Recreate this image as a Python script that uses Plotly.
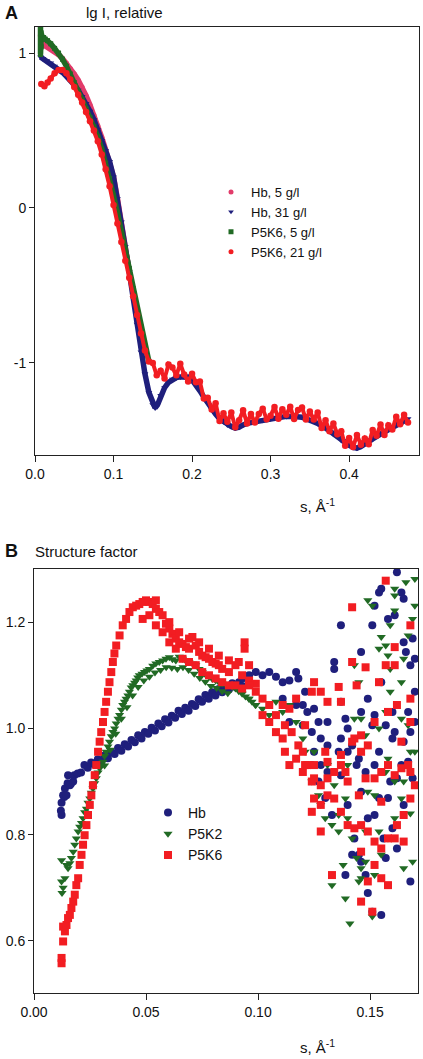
import plotly.graph_objects as go

# ---------------- Panel A : lg I, relative ----------------
A_hb5_s = [0.007, 0.008, 0.012, 0.015, 0.020, 0.025, 0.030, 0.035, 0.040, 0.045, 0.050, 0.055, 0.060,
           0.065, 0.070, 0.075, 0.080, 0.085, 0.090, 0.095, 0.100, 0.105, 0.110, 0.115, 0.120]
A_hb5_lgI = [1.12, 1.07, 1.05, 1.04, 1.03, 1.01, 0.99, 0.965, 0.935, 0.90, 0.865, 0.825, 0.78,
             0.725, 0.665, 0.60, 0.53, 0.455, 0.375, 0.30, 0.20, 0.06, -0.09, -0.25, -0.41]

A_hb31_s = [0.007, 0.010, 0.015, 0.020, 0.025, 0.030, 0.035, 0.040, 0.045, 0.050,
            0.055, 0.060, 0.065, 0.070, 0.075, 0.080, 0.085, 0.090, 0.095, 0.100,
            0.105, 0.110, 0.115, 0.120, 0.125, 0.130, 0.135, 0.140, 0.145, 0.150,
            0.153, 0.156, 0.160, 0.165, 0.170, 0.175, 0.180, 0.185, 0.190, 0.195, 0.200,
            0.205, 0.210, 0.215, 0.220, 0.225, 0.230, 0.235, 0.240, 0.245, 0.250, 0.255,
            0.260, 0.265, 0.270, 0.280, 0.290, 0.300, 0.310, 0.320, 0.330, 0.340, 0.350,
            0.360, 0.370, 0.380, 0.390, 0.400, 0.405, 0.410, 0.415, 0.420, 0.430, 0.440,
            0.450, 0.460, 0.470, 0.475]
A_hb31_lgI = [0.975, 0.965, 0.95, 0.935, 0.915, 0.895, 0.875, 0.85, 0.825, 0.795,
              0.76, 0.72, 0.675, 0.625, 0.57, 0.505, 0.435, 0.37, 0.30, 0.20,
              0.06, -0.09, -0.25, -0.41, -0.58, -0.75, -0.93, -1.07, -1.19, -1.27,
              -1.29, -1.27, -1.21, -1.16, -1.125, -1.105, -1.095, -1.09, -1.09, -1.09, -1.11,
              -1.14, -1.18, -1.22, -1.26, -1.30, -1.33, -1.36, -1.38, -1.40, -1.41, -1.42,
              -1.415, -1.40, -1.39, -1.38, -1.37, -1.36, -1.35, -1.345, -1.345, -1.35, -1.37,
              -1.39, -1.42, -1.46, -1.50, -1.53, -1.545, -1.55, -1.54, -1.52, -1.49, -1.46,
              -1.43, -1.40, -1.37, -1.36]

A_p5k6_5_s = [0.007, 0.007, 0.007, 0.008, 0.008, 0.009, 0.011, 0.013, 0.016, 0.020, 0.025,
              0.030, 0.035, 0.040, 0.045, 0.050, 0.055, 0.060, 0.065, 0.070, 0.075, 0.080,
              0.085, 0.090, 0.095, 0.100, 0.105, 0.110, 0.115, 0.120, 0.125, 0.130, 0.135,
              0.140, 0.145]
A_p5k6_5_lgI = [1.17, 1.12, 0.99, 1.04, 1.13, 1.09, 1.10, 1.09, 1.08, 1.06, 1.03,
                1.00, 0.96, 0.915, 0.865, 0.81, 0.75, 0.70, 0.64, 0.585, 0.525, 0.46,
                0.38, 0.29, 0.19, 0.08, -0.03, -0.15, -0.27, -0.39, -0.52, -0.66, -0.79,
                -0.91, -0.99]

A_p5k6_21_s = [0.008, 0.012, 0.016, 0.020, 0.025, 0.030, 0.035, 0.040, 0.045, 0.050,
               0.055, 0.060, 0.065, 0.070, 0.075, 0.080, 0.085, 0.090, 0.095, 0.100,
               0.105, 0.110, 0.115, 0.120, 0.125, 0.130, 0.135, 0.140, 0.145,
               0.150, 0.155, 0.160, 0.165, 0.170, 0.175, 0.180, 0.185, 0.190, 0.195,
               0.200, 0.205, 0.210, 0.215, 0.220, 0.225, 0.230, 0.235, 0.240, 0.245,
               0.250, 0.255, 0.260, 0.265, 0.270, 0.275, 0.280, 0.285, 0.290, 0.295,
               0.300, 0.305, 0.310, 0.315, 0.320, 0.325, 0.330, 0.335, 0.340, 0.345,
               0.350, 0.355, 0.360, 0.365, 0.370, 0.375, 0.380, 0.385, 0.390, 0.395,
               0.400, 0.405, 0.410, 0.415, 0.420, 0.425, 0.430, 0.435, 0.440, 0.445,
               0.450, 0.455, 0.460, 0.465, 0.470, 0.475]
A_p5k6_21_lgI = [0.80, 0.785, 0.81, 0.835, 0.87, 0.89, 0.89, 0.87, 0.83, 0.78,
                 0.73, 0.68, 0.62, 0.56, 0.50, 0.43, 0.345, 0.25, 0.14, 0.02,
                 -0.10, -0.22, -0.34, -0.45, -0.57, -0.69, -0.81, -0.92, -0.99,
                 -1.00, -1.08, -1.05, -1.10, -1.01, -1.03, -1.08, -1.005, -1.075, -1.12,
                 -1.07, -1.125, -1.12, -1.23, -1.225, -1.30, -1.26, -1.375, -1.325, -1.38,
                 -1.32, -1.415, -1.37, -1.305, -1.39, -1.33, -1.385, -1.33, -1.295, -1.363,
                 -1.34, -1.285, -1.36, -1.298, -1.335, -1.282, -1.362, -1.303, -1.287, -1.365,
                 -1.313, -1.365, -1.32, -1.42, -1.37, -1.44, -1.39, -1.46, -1.44, -1.535,
                 -1.485, -1.543, -1.465, -1.528, -1.487, -1.525, -1.432, -1.47, -1.397, -1.465,
                 -1.402, -1.43, -1.347, -1.395, -1.335, -1.385]

A_names = ["Hb, 5 g/l", "Hb, 31 g/l", "P5K6, 5 g/l", "P5K6, 21 g/l"]

# ---------------- Panel B : Structure factor ----------------
B_hb_s = [0.012, 0.0135, 0.015, 0.0165, 0.018, 0.0195, 0.021, 0.0225, 0.024, 0.0255, 0.027, 0.0285,
          0.030, 0.0315, 0.033, 0.0345, 0.036, 0.0375, 0.039, 0.0405, 0.042, 0.0435, 0.045, 0.0465,
          0.048, 0.0495, 0.051, 0.0525, 0.054, 0.0555, 0.057, 0.0585, 0.060, 0.0615, 0.063, 0.0645,
          0.066, 0.0675, 0.069, 0.0705, 0.072, 0.0735, 0.075, 0.0765, 0.078, 0.0795, 0.081, 0.0825,
          0.084, 0.0855, 0.087, 0.0885, 0.090, 0.0915, 0.093,
          0.0123, 0.0123, 0.013, 0.0138, 0.0152, 0.0145, 0.016, 0.0175,
          0.093, 0.096, 0.099, 0.102, 0.105, 0.108, 0.111, 0.114, 0.117, 0.118, 0.121, 0.120,
          0.122, 0.125, 0.127, 0.128, 0.131, 0.131, 0.134, 0.134, 0.137, 0.137, 0.139, 0.140,
          0.142, 0.144, 0.146, 0.146, 0.148, 0.149, 0.151, 0.151, 0.152, 0.152, 0.154, 0.155,
          0.155, 0.157, 0.158, 0.160, 0.161, 0.161, 0.162, 0.164, 0.165, 0.165, 0.166, 0.167,
          0.168, 0.169, 0.170, 0.169, 0.170, 0.168, 0.137, 0.140, 0.143, 0.145, 0.146, 0.148,
          0.149, 0.151, 0.155, 0.157, 0.160, 0.162, 0.164, 0.165, 0.159, 0.154, 0.152, 0.142,
          0.139, 0.146, 0.145, 0.128, 0.131, 0.136, 0.125, 0.124, 0.127, 0.130, 0.133, 0.149,
          0.156, 0.160, 0.167, 0.170, 0.111, 0.117, 0.114, 0.120, 0.124, 0.137, 0.140, 0.154,
          0.158, 0.162, 0.165, 0.168, 0.152]
B_hb_sf = [0.845, 0.871, 0.897, 0.896, 0.912, 0.915, 0.917, 0.931, 0.926, 0.936, 0.932, 0.942,
           0.938, 0.949, 0.944, 0.955, 0.952, 0.963, 0.958, 0.970, 0.966, 0.978, 0.974, 0.987,
           0.981, 0.993, 0.990, 1.001, 0.996, 1.009, 1.004, 1.017, 1.011, 1.024, 1.020, 1.033,
           1.027, 1.039, 1.033, 1.046, 1.042, 1.055, 1.050, 1.063, 1.056, 1.068, 1.062, 1.074,
           1.068, 1.079, 1.073, 1.085, 1.078, 1.087, 1.080,
           0.837, 0.860, 0.874, 0.887, 0.912, 0.874, 0.893, 0.900,
           1.094, 1.100, 1.106, 1.100, 1.106, 1.097, 1.087, 1.090, 1.106, 1.094, 1.069, 1.044,
           1.031, 1.037, 1.012, 0.981, 1.012, 0.968, 1.125, 1.112, 1.194, 1.050, 1.018, 1.000,
           0.968, 0.931, 1.144, 1.031, 0.918, 1.056, 1.194, 1.006, 1.231, 1.025, 1.256, 1.263,
           1.087, 1.006, 1.206, 1.031, 1.213, 0.993, 1.294, 1.256, 1.162, 1.244, 1.144, 1.031,
           1.119, 1.169, 1.131, 0.906, 1.012, 0.712, 0.912, 0.856, 0.793, 0.762, 0.749, 0.724,
           0.690, 0.655, 0.649, 0.756, 0.812, 0.774, 0.931, 0.856, 0.900, 0.869, 0.837, 0.762,
           0.724, 0.881, 0.943, 0.931, 0.918, 0.956, 0.956, 0.931, 0.900, 0.869, 0.837, 0.831,
           0.793, 0.981, 0.937, 1.069, 1.056, 1.044, 1.012, 1.006, 0.993, 0.981, 0.956, 0.956,
           0.869, 0.906, 0.975, 0.993, 0.931]

B_p5k2_s = [0.0123, 0.0123, 0.0125, 0.013, 0.0138, 0.0145, 0.0152, 0.016, 0.0167, 0.0175, 0.0182,
            0.0189, 0.0197, 0.0204, 0.0212, 0.0219, 0.0226, 0.0234, 0.0241, 0.0249, 0.0256, 0.0263,
            0.0271, 0.0278, 0.0286, 0.0293, 0.030, 0.0308, 0.0315, 0.0322, 0.033, 0.0337, 0.0345,
            0.0352, 0.036, 0.0367, 0.0375, 0.0382, 0.039, 0.0396, 0.0404, 0.0411, 0.0419, 0.0426,
            0.0434, 0.0441, 0.0449, 0.0456, 0.0463, 0.047, 0.0482, 0.0493, 0.0504, 0.0515, 0.053,
            0.0544, 0.0559, 0.0574, 0.0589, 0.0604, 0.0618, 0.0633, 0.0648, 0.0663, 0.0678, 0.0692,
            0.0707, 0.0722, 0.0737, 0.0751, 0.0766, 0.0781, 0.0796, 0.0811, 0.0825, 0.084, 0.0855,
            0.087, 0.0885, 0.0899, 0.0914, 0.0929, 0.0944, 0.0959, 0.0973, 0.0988,
            0.0315, 0.034, 0.0365, 0.039, 0.0415, 0.044, 0.0465, 0.049, 0.0515, 0.054, 0.0565,
            0.059, 0.0615, 0.064, 0.0665, 0.069, 0.0715, 0.074, 0.0765, 0.079, 0.0815, 0.084, 0.0865,
            0.102, 0.111, 0.117, 0.120, 0.121, 0.124, 0.127, 0.128, 0.130, 0.133, 0.136, 0.138,
            0.133, 0.139, 0.141, 0.145, 0.146, 0.148, 0.151, 0.152, 0.155, 0.158, 0.161, 0.164,
            0.165, 0.168, 0.169, 0.152, 0.157, 0.158, 0.148, 0.154, 0.157, 0.159, 0.164, 0.165,
            0.167, 0.169, 0.170, 0.170, 0.166, 0.161, 0.161, 0.161, 0.159, 0.155, 0.157, 0.154,
            0.149, 0.151, 0.158, 0.159, 0.143, 0.145, 0.146, 0.143, 0.140, 0.139, 0.136, 0.140,
            0.142, 0.144, 0.146, 0.164, 0.167, 0.168, 0.165, 0.108, 0.114, 0.096, 0.099, 0.105,
            0.120, 0.125, 0.131, 0.134, 0.148, 0.154, 0.161, 0.170, 0.149]
B_p5k2_sf = [0.752, 0.712, 0.690, 0.700, 0.718, 0.743, 0.737, 0.746, 0.756, 0.768, 0.781,
             0.793, 0.806, 0.815, 0.822, 0.831, 0.842, 0.849, 0.860, 0.868, 0.879, 0.887,
             0.897, 0.906, 0.917, 0.925, 0.930, 0.937, 0.948, 0.956, 0.966, 0.975, 0.985,
             0.993, 1.000, 1.009, 1.018, 1.025, 1.035, 1.044, 1.050, 1.056, 1.062, 1.069,
             1.077, 1.081, 1.086, 1.090, 1.096, 1.100, 1.103, 1.106, 1.109, 1.112, 1.118,
             1.122, 1.125, 1.128, 1.131, 1.134, 1.130, 1.128, 1.135, 1.131, 1.127, 1.125,
             1.122, 1.119, 1.112, 1.106, 1.101, 1.097, 1.093, 1.090, 1.087, 1.084, 1.082,
             1.081, 1.078, 1.075, 1.070, 1.065, 1.060, 1.056, 1.050, 1.044,
             0.930, 0.960, 0.990, 1.018, 1.040, 1.062, 1.078, 1.090, 1.097, 1.105, 1.110,
             1.115, 1.114, 1.112, 1.115, 1.110, 1.103, 1.095, 1.088, 1.080, 1.076, 1.070, 1.066,
             1.037, 1.031, 1.012, 0.981, 0.956, 0.900, 0.874, 0.856, 0.831, 0.818, 0.806, 0.743,
             0.705, 0.680, 0.633, 0.712, 0.737, 0.749, 0.646, 0.724, 0.762, 0.793, 0.831, 0.868,
             0.737, 0.840, 0.749, 0.874, 0.918, 0.943, 0.987, 1.000, 1.031, 1.069, 1.087, 1.131,
             1.175, 1.206, 1.231, 1.281, 1.275, 1.263, 1.250, 1.222, 1.194, 1.172, 1.156, 1.150,
             1.241, 1.231, 1.137, 1.112, 1.119, 1.087, 1.018, 1.018, 0.931, 0.868, 0.837, 0.831,
             0.793, 0.756, 0.718, 1.018, 1.006, 0.956, 0.900, 1.050, 1.044, 1.056, 1.044, 1.025,
             1.006, 0.956, 0.931, 0.893, 0.806, 0.806, 0.900, 0.956, 0.881]

B_p5k6_s = [0.0123, 0.0123, 0.013, 0.0138, 0.013, 0.0145, 0.0152, 0.016, 0.0167, 0.0175, 0.0182,
            0.0189, 0.0197, 0.0204, 0.0212, 0.0219, 0.0226, 0.0234, 0.0241, 0.0249, 0.0256, 0.0263,
            0.0271, 0.0278, 0.0286, 0.0293, 0.030, 0.0308, 0.0315, 0.0322, 0.033, 0.0337, 0.0345,
            0.0352, 0.0359, 0.0367, 0.0382, 0.0396, 0.0411, 0.0426, 0.0441, 0.0456, 0.047, 0.0485,
            0.050, 0.0515, 0.053, 0.0544, 0.0544, 0.0559, 0.0574, 0.0589, 0.0604, 0.0618, 0.0633,
            0.0648, 0.0663, 0.0678, 0.0692, 0.0707, 0.0722, 0.0737, 0.0751, 0.0766, 0.0781, 0.0796,
            0.0811, 0.0825, 0.084, 0.087, 0.0899, 0.0929,
            0.0485, 0.0515, 0.0544, 0.0574, 0.0604, 0.0633, 0.0663, 0.0692, 0.0722, 0.0751, 0.0781,
            0.0811, 0.084, 0.087, 0.0899, 0.0929, 0.096, 0.099,
            0.0604, 0.0648, 0.0692, 0.0737, 0.0781, 0.0825, 0.087, 0.0914, 0.096,
            0.094, 0.094, 0.102, 0.105, 0.108, 0.111, 0.112, 0.114, 0.117, 0.120, 0.122, 0.124,
            0.125, 0.128, 0.131, 0.134, 0.137, 0.140, 0.142, 0.143, 0.146, 0.149, 0.152, 0.155,
            0.158, 0.161, 0.164, 0.167, 0.170, 0.168, 0.165, 0.162, 0.158, 0.155, 0.152, 0.149,
            0.146, 0.143, 0.140, 0.137, 0.134, 0.131, 0.128, 0.125, 0.124, 0.128, 0.133, 0.146,
            0.151, 0.152, 0.155, 0.158, 0.149, 0.146, 0.142, 0.157, 0.168, 0.157, 0.161, 0.161,
            0.168, 0.168, 0.164, 0.154, 0.148, 0.142, 0.144, 0.137, 0.136, 0.131, 0.128, 0.125,
            0.124, 0.117, 0.114, 0.111, 0.121, 0.120, 0.137, 0.146, 0.152, 0.158, 0.162,
            0.102, 0.105, 0.099, 0.096, 0.108, 0.115, 0.118, 0.112, 0.121, 0.125, 0.130, 0.131,
            0.139, 0.148, 0.145, 0.155, 0.161, 0.165, 0.168]
B_p5k6_sf = [0.568, 0.558, 0.599, 0.618, 0.627, 0.630, 0.643, 0.649, 0.662, 0.674, 0.687,
             0.705, 0.718, 0.743, 0.762, 0.781, 0.799, 0.818, 0.837, 0.856, 0.874, 0.893,
             0.912, 0.931, 0.956, 0.975, 0.993, 1.012, 1.031, 1.050, 1.069, 1.087, 1.106,
             1.125, 1.141, 1.156, 1.175, 1.194, 1.206, 1.219, 1.228, 1.231, 1.234, 1.238,
             1.241, 1.238, 1.234, 1.241, 1.225, 1.219, 1.213, 1.197, 1.188, 1.178, 1.169,
             1.162, 1.159, 1.153, 1.150, 1.172, 1.156, 1.144, 1.137, 1.134, 1.131, 1.125,
             1.122, 1.119, 1.112, 1.106, 1.119, 1.100,
             1.206, 1.213, 1.194, 1.181, 1.162, 1.150, 1.131, 1.125, 1.119, 1.106, 1.100,
             1.094, 1.087, 1.081, 1.081, 1.075, 1.090, 1.084,
             1.200, 1.181, 1.169, 1.162, 1.150, 1.137, 1.128, 1.125, 1.119,
             1.162, 1.150, 1.025, 1.012, 0.993, 0.981, 0.956, 0.931, 0.943, 0.918, 0.931, 0.900,
             0.906, 0.893, 0.906, 0.918, 0.931, 0.900, 0.975, 0.981, 0.956, 0.968, 0.906, 0.918,
             0.931, 0.912, 0.925, 0.931, 0.893, 0.868, 0.837, 0.818, 0.793, 0.774, 0.787, 0.806,
             0.818, 0.812, 0.818, 0.843, 0.868, 0.874, 0.856, 0.868, 0.843, 0.806, 0.724, 0.674,
             0.655, 0.743, 0.718, 0.705, 0.712, 0.768, 1.228, 1.278, 1.194, 1.119, 1.119, 1.153,
             1.056, 1.012, 0.975, 1.087, 1.115, 1.125, 1.081, 1.050, 1.078, 1.050, 1.069, 1.087,
             1.069, 1.056, 1.037, 1.044, 1.006, 0.956, 0.950, 0.987, 1.012, 1.031, 1.044,
             1.056, 1.044, 1.069, 1.081, 1.025, 0.993, 0.968, 1.006, 0.931, 0.931, 0.956, 0.937,
             0.918, 0.906, 0.874, 0.862, 0.793, 0.787, 0.918]

B_names = ["Hb", "P5K2", "P5K6"]

for a, b in [(A_hb5_s, A_hb5_lgI), (A_hb31_s, A_hb31_lgI), (A_p5k6_5_s, A_p5k6_5_lgI),
             (A_p5k6_21_s, A_p5k6_21_lgI), (B_hb_s, B_hb_sf), (B_p5k2_s, B_p5k2_sf), (B_p5k6_s, B_p5k6_sf)]:
    assert len(a) == len(b), (len(a), len(b))

# ---------------- styles ----------------
PINK = "#e23b6a"
NAVY = "#1f1f7c"
GREEN = "#216a24"
RED = "#f21d22"
FONT = "Arial, Liberation Sans, Helvetica, sans-serif"

fig = go.Figure()

A_series = [
    (A_hb5_s, A_hb5_lgI, PINK, "circle", 5, 5.5),
    (A_hb31_s, A_hb31_lgI, NAVY, "triangle-down", 6, 5.5),
    (A_p5k6_5_s, A_p5k6_5_lgI, GREEN, "square", 5, 5.5),
    (A_p5k6_21_s, A_p5k6_21_lgI, RED, "circle", 6.5, 4),
]
for (sx, sy, col, sym, sz, lw), name in zip(A_series, A_names):
    fig.add_trace(go.Scatter(
        x=sx, y=sy, mode="lines+markers", name=name, showlegend=False,
        line=dict(color=col, width=lw), marker=dict(color=col, size=sz, symbol=sym),
        xaxis="x", yaxis="y", hoverinfo="skip"))
for (sx, sy, col, sym, sz, lw), name in zip(A_series, A_names):
    fig.add_trace(go.Scatter(
        x=[None], y=[None], mode="markers", name=name, legend="legend",
        marker=dict(color=col, size=5, symbol=sym), xaxis="x", yaxis="y"))

B_series = [
    (B_hb_s, B_hb_sf, NAVY, "circle"),
    (B_p5k2_s, B_p5k2_sf, GREEN, "triangle-down"),
    (B_p5k6_s, B_p5k6_sf, RED, "square"),
]
for (sx, sy, col, sym), name in zip(B_series, B_names):
    fig.add_trace(go.Scatter(
        x=sx, y=sy, mode="markers", name=name, legend="legend2",
        marker=dict(color=col, size=8, symbol=sym, line=dict(width=0)),
        xaxis="x2", yaxis="y2"))

W, H = 423, 1059
def px(x):
    return x / W
def py(y):
    return 1 - y / H

def axis_style(ticklen):
    return dict(showline=True, linecolor="#222", linewidth=1, mirror=True, ticks="outside",
                ticklen=ticklen, tickcolor="#222", showgrid=False, zeroline=False,
                automargin=False, tickfont=dict(family=FONT, size=14, color="#111"))

fig.update_layout(
    width=W, height=H, margin=dict(l=0, r=0, t=0, b=0, autoexpand=False),
    paper_bgcolor="white", plot_bgcolor="white",
    font=dict(family=FONT, color="#111"),
    xaxis=dict(domain=[px(35), px(419)], anchor="y", range=[0, 0.489],
               tickvals=[0, 0.1, 0.2, 0.3, 0.4], tickformat=".1f", **axis_style(6)),
    yaxis=dict(domain=[py(455), py(27)], anchor="x", range=[-1.594, 1.168],
               tickvals=[-1, 0, 1], ticktext=["-1", "0", "1"], **axis_style(5)),
    xaxis2=dict(domain=[px(34), px(418)], anchor="y2", range=[0, 0.1714],
                tickvals=[0, 0.05, 0.10, 0.15], tickformat=".2f", **axis_style(6)),
    yaxis2=dict(domain=[py(993), py(569)], anchor="x2", range=[0.502, 1.300],
                tickvals=[0.6, 0.8, 1.0, 1.2], tickformat=".1f", **axis_style(5)),
    legend=dict(x=px(211), y=py(177), xanchor="left", yanchor="top",
                bgcolor="rgba(0,0,0,0)", font=dict(family=FONT, size=13, color="#111"),
                itemwidth=30, tracegroupgap=0),
    legend2=dict(x=px(148), y=py(797), xanchor="left", yanchor="top",
                 bgcolor="rgba(0,0,0,0)", font=dict(family=FONT, size=14, color="#111"),
                 itemwidth=30),
)

ann = [
    dict(text="<b>A</b>", x=px(3), y=py(13), size=18),
    dict(text="lg I, relative", x=px(84), y=py(13), size=15),
    dict(text="<b>B</b>", x=px(3), y=py(551), size=18),
    dict(text="Structure factor", x=px(33), y=py(551), size=15),
]
for a in ann:
    fig.add_annotation(text=a["text"], x=a["x"], y=a["y"], xref="paper", yref="paper",
                       xanchor="left", yanchor="middle", showarrow=False,
                       font=dict(family=FONT, size=a["size"], color="#111"))
for yy in (506, 1046):
    fig.add_annotation(text="s, Å<sup>-1</sup>", x=px(317), y=py(yy), xref="paper", yref="paper",
                       xanchor="center", yanchor="middle", showarrow=False,
                       font=dict(family=FONT, size=15, color="#111"))

fig.write_html(
    "out.html",
    config={"displayModeBar": False},
    post_script="document.body.style.margin='0';document.body.style.padding='0';"
                "document.body.style.overflow='hidden';",
)
